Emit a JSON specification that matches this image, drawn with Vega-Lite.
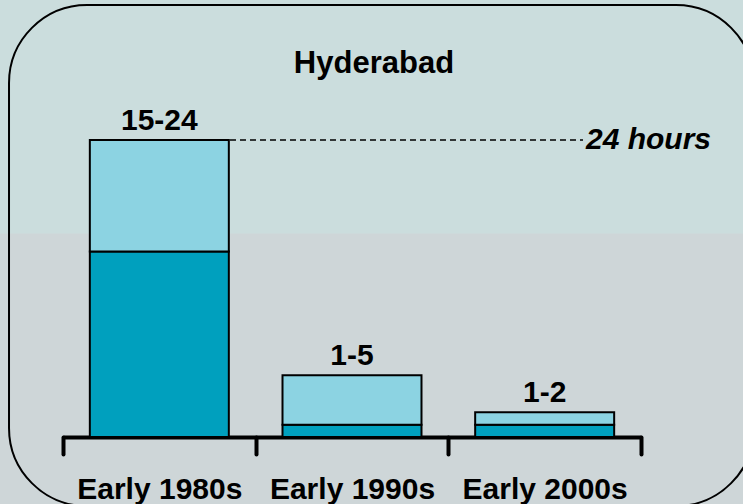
{
  "$schema": "https://vega.github.io/schema/vega-lite/v6.json",
  "autosize": "none",
  "padding": {"left": 63, "top": 140, "right": 102, "bottom": 67},
  "width": 578,
  "height": 297,
  "background": "#CED6D8",
  "config": {
    "view": {"stroke": null},
    "font": "Liberation Sans",
    "axis": {
      "domainColor": "black", "domainWidth": 4, "domainCap": "butt",
      "tickColor": "black", "tickWidth": 4, "tickSize": 17, "tickCap": "round",
      "tickBand": "extent",
      "labelFont": "Liberation Sans", "labelFontWeight": "bold", "labelFontSize": 30,
      "labelColor": "black", "labelPadding": 20, "labelLimit": 0, "labelAngle": 0,
      "grid": false, "title": null
    }
  },
  "layer": [
    {
      "data": {"values": [{}]},
      "layer": [
        {
          "mark": {"type": "rect", "fill": "#CBDDDD", "clip": false},
          "encoding": {
            "x": {"datum": -0.2, "type": "quantitative", "scale": {"domain": [0, 1], "nice": false, "zero": false}, "axis": null},
            "x2": {"datum": 1.3},
            "y": {"datum": 16.45, "type": "quantitative", "scale": {"domain": [0, 24], "nice": false}, "axis": null},
            "y2": {"datum": 36}
          }
        },
        {
          "mark": {"type": "rect", "fill": null, "fillOpacity": 0, "stroke": "black", "strokeWidth": 2, "cornerRadius": 78, "clip": false},
          "encoding": {
            "x": {"datum": -0.0934, "type": "quantitative"},
            "x2": {"datum": 1.1955},
            "y": {"datum": 34.91, "type": "quantitative"},
            "y2": {"datum": -5.576}
          }
        }
      ]
    },
    {
      "data": {
        "values": [
          {"period": "Early 1980s", "min": 15, "max": 24, "label": "15-24"},
          {"period": "Early 1990s", "min": 1, "max": 5, "label": "1-5"},
          {"period": "Early 2000s", "min": 1, "max": 2, "label": "1-2"}
        ]
      },
      "encoding": {
        "x": {
          "field": "period", "type": "nominal", "sort": null,
          "scale": {"paddingInner": 0, "paddingOuter": 0},
          "axis": {"orient": "bottom"}
        }
      },
      "layer": [
        {
          "mark": {"type": "bar", "fill": "#00A0BE", "stroke": "black", "strokeWidth": 2, "width": {"band": 0.7214}},
          "encoding": {
            "y": {"field": "min", "type": "quantitative", "scale": {"domain": [0, 24], "nice": false}, "axis": null}
          }
        },
        {
          "mark": {"type": "bar", "fill": "#8CD3E2", "stroke": "black", "strokeWidth": 2, "width": {"band": 0.7214}},
          "encoding": {
            "y": {"field": "min", "type": "quantitative"},
            "y2": {"field": "max"}
          }
        },
        {
          "mark": {"type": "text", "baseline": "alphabetic", "align": "center", "fontSize": 30, "fontWeight": "bold", "color": "black", "dy": -10},
          "encoding": {
            "y": {"field": "max", "type": "quantitative"},
            "text": {"field": "label"}
          }
        }
      ]
    },
    {
      "data": {"values": [{}]},
      "layer": [
        {
          "mark": {"type": "rule", "stroke": "black", "strokeWidth": 1.5, "strokeDash": [6, 4]},
          "encoding": {
            "x": {"datum": 0.0467, "type": "quantitative", "scale": {"domain": [0, 1], "nice": false, "zero": false}, "axis": null},
            "x2": {"datum": 0.8997},
            "y": {"datum": 24, "type": "quantitative"}
          }
        },
        {
          "mark": {"type": "text", "text": "24 hours", "align": "left", "baseline": "middle", "fontSize": 30, "fontWeight": "bold", "fontStyle": "italic", "color": "black", "dx": 1},
          "encoding": {
            "x": {"datum": 0.9031, "type": "quantitative"},
            "y": {"datum": 24, "type": "quantitative"}
          }
        },
        {
          "mark": {"type": "text", "text": "Hyderabad", "align": "center", "baseline": "alphabetic", "fontSize": 31, "fontWeight": "bold", "color": "black"},
          "encoding": {
            "x": {"datum": 0.538, "type": "quantitative"},
            "y": {"datum": 29.41, "type": "quantitative"}
          }
        }
      ]
    }
  ],
  "resolve": {"scale": {"x": "independent"}, "axis": {"x": "independent"}}
}
